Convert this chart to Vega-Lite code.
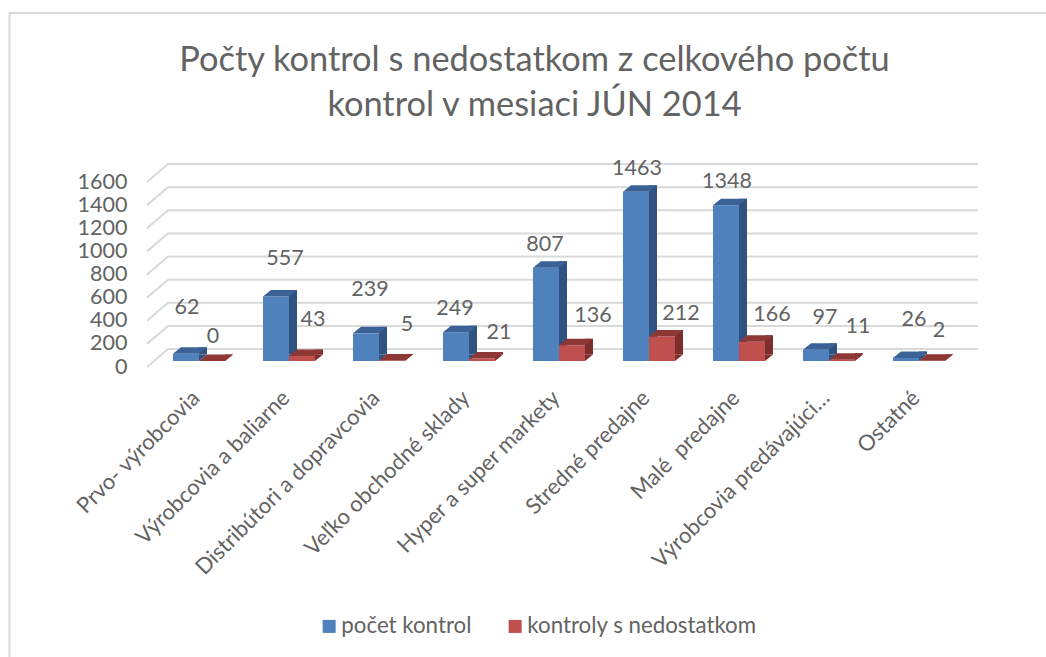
{
"$schema":"https://vega.github.io/schema/vega-lite/v6.json",
"autosize":{"type":"none"},
"width":1040,"height":650,
"padding":{"left":9.5,"top":13,"right":-3.5,"bottom":-6},
"background":"white",
"config":{"font":"Lato","view":{"stroke":"#d9d9d9","strokeWidth":2}},
"title":{"text":["Počty kontrol s nedostatkom z celkového počtu","kontrol v mesiaci JÚN 2014"],"anchor":"middle","frame":"group","dx":5,"offset":-110,"fontSize":34.4,"fontWeight":"normal","color":"#636363","lineHeight":45,"font":"Lato"},
"datasets":{
"bars":[
{"kategoria":"Prvo- výrobcovia","seria":"počet kontrol","pocet":62},
{"kategoria":"Výrobcovia a baliarne","seria":"počet kontrol","pocet":557},
{"kategoria":"Distribútori a dopravcovia","seria":"počet kontrol","pocet":239},
{"kategoria":"Veľko obchodné sklady","seria":"počet kontrol","pocet":249},
{"kategoria":"Hyper a super markety","seria":"počet kontrol","pocet":807},
{"kategoria":"Stredné predajne","seria":"počet kontrol","pocet":1463},
{"kategoria":"Malé \u00a0predajne","seria":"počet kontrol","pocet":1348},
{"kategoria":"Výrobcovia predávajúci…","seria":"počet kontrol","pocet":97},
{"kategoria":"Ostatné","seria":"počet kontrol","pocet":26},
{"kategoria":"Prvo- výrobcovia","seria":"kontroly s nedostatkom","pocet":0},
{"kategoria":"Výrobcovia a baliarne","seria":"kontroly s nedostatkom","pocet":43},
{"kategoria":"Distribútori a dopravcovia","seria":"kontroly s nedostatkom","pocet":5},
{"kategoria":"Veľko obchodné sklady","seria":"kontroly s nedostatkom","pocet":21},
{"kategoria":"Hyper a super markety","seria":"kontroly s nedostatkom","pocet":136},
{"kategoria":"Stredné predajne","seria":"kontroly s nedostatkom","pocet":212},
{"kategoria":"Malé \u00a0predajne","seria":"kontroly s nedostatkom","pocet":166},
{"kategoria":"Výrobcovia predávajúci…","seria":"kontroly s nedostatkom","pocet":11},
{"kategoria":"Ostatné","seria":"kontroly s nedostatkom","pocet":2}
],
"ticks":[{"t":0},{"t":200},{"t":400},{"t":600},{"t":800},{"t":1000},{"t":1200},{"t":1400},{"t":1600}]
},
"encoding":{
"x":{"field":"kategoria","type":"nominal","sort":null,"title":null,
 "scale":{"domain":["Prvo- výrobcovia","Výrobcovia a baliarne","Distribútori a dopravcovia","Veľko obchodné sklady","Hyper a super markety","Stredné predajne","Malé \u00a0predajne","Výrobcovia predávajúci…","Ostatné"],"range":[144.5,954.5],"padding":0},
 "axis":{"orient":"bottom","offset":-302,"domain":false,"ticks":false,"labelAngle":-45,"labelAlign":"right","labelBaseline":"middle","labelPadding":33,"labelOffset":-3,"labelFontSize":22,"labelColor":"#636363","labelLimit":0,"labelBound":false,"labelOverlap":false}},
"xOffset":{"field":"seria","type":"nominal","sort":null,"scale":{"domain":["počet kontrol","kontroly s nedostatkom"],"range":[19,71],"padding":0}},
"y":{"field":"pocet","type":"quantitative","title":null,
 "scale":{"domain":[0,1600],"range":[348,163],"nice":false},
 "axis":{"values":[0,200,400,600,800,1000,1200,1400,1600],"format":"d","domain":false,"ticks":false,"grid":false,"labelPadding":-117.5,"labelOffset":6,"labelFontSize":21.5,"labelColor":"#636363","labelBound":false,"labelFlush":false}}
},
"layer":[
{"data":{"name":"ticks"},
 "mark":{"type":"point","shape":"M-52,6L-31,-12L779,-12","size":4,"filled":false,"stroke":"#d9d9d9","strokeWidth":2,"opacity":1},
 "encoding":{"x":{"datum":"Prvo- výrobcovia"},"xOffset":null,"y":{"field":"t","type":"quantitative"}}},
{"data":{"name":"bars"},"transform":[{"filter":"datum.seria==='počet kontrol'"}],
 "layer":[
 {"mark":{"type":"rule","color":"#2f5280","strokeWidth":8,"strokeCap":"butt","xOffset":4,"x2Offset":4,"yOffset":-6.5,"y2Offset":-6.5},"encoding":{"xOffset":null,"y2":{"datum":0}}},
 {"mark":{"type":"point","shape":"M13,0L21,-6.5L13,-6.5Z","size":4,"filled":true,"color":"#2f5280","opacity":1},"encoding":{"y":{"datum":0}}},
 {"mark":{"type":"bar"},"encoding":{"color":{"field":"seria","type":"nominal","sort":null,"title":null,"scale":{"domain":["počet kontrol","kontroly s nedostatkom"],"range":["#4f81bd","#c0504d"]}}}},
 {"mark":{"type":"point","shape":"M-13,0L-5,-6.5L21,-6.5L13,0Z","size":4,"filled":true,"color":"#3a6296","opacity":1}}
 ]},
{"data":{"name":"bars"},"transform":[{"filter":"datum.seria!=='počet kontrol'"}],
 "layer":[
 {"mark":{"type":"rule","color":"#7d2e2c","strokeWidth":8,"strokeCap":"butt","xOffset":30,"x2Offset":30,"yOffset":-6.5,"y2Offset":-6.5},"encoding":{"xOffset":null,"y2":{"datum":0}}},
 {"mark":{"type":"point","shape":"M13,0L21,-6.5L13,-6.5Z","size":4,"filled":true,"color":"#7d2e2c","opacity":1},"encoding":{"y":{"datum":0}}},
 {"mark":{"type":"bar"},"encoding":{"color":{"field":"seria","type":"nominal","sort":null,"title":null,"scale":{"domain":["počet kontrol","kontroly s nedostatkom"],"range":["#4f81bd","#c0504d"]},"legend":{"orient":"none","legendX":308.5,"legendY":602,"direction":"horizontal","symbolType":"square","symbolSize":169,"symbolStrokeWidth":0,"labelFontSize":22.3,"labelColor":"#636363","labelOffset":1,"columnPadding":32,"padding":0,"labelLimit":0}}}},
 {"mark":{"type":"point","shape":"M-13,0L-5,-6.5L21,-6.5L13,0Z","size":4,"filled":true,"color":"#8e3836","opacity":1}}
 ]},
{"data":{"name":"bars"},
 "mark":{"type":"text","fontSize":21.5,"color":"#636363","baseline":"middle","align":"center",
  "dx":{"expr":"{'62':1,'557':9,'239':4,'249':-1,'807':-1,'1463':1,'1348':1,'97':9,'26':8,'0':1,'43':11,'5':15,'21':17,'136':21,'212':19,'166':20,'11':16,'2':7}[datum.pocet]"},
  "dy":{"expr":"{'62':-46,'557':-38,'239':-43,'249':-23,'807':-23,'1463':-23,'1348':-23,'97':-32,'26':-38,'0':-24,'43':-36,'5':-35,'21':-26,'136':-29,'212':-22,'166':-27,'11':-33,'2':-30}[datum.pocet]"}},
 "encoding":{"text":{"field":"pocet","type":"quantitative"}}}
]
}
